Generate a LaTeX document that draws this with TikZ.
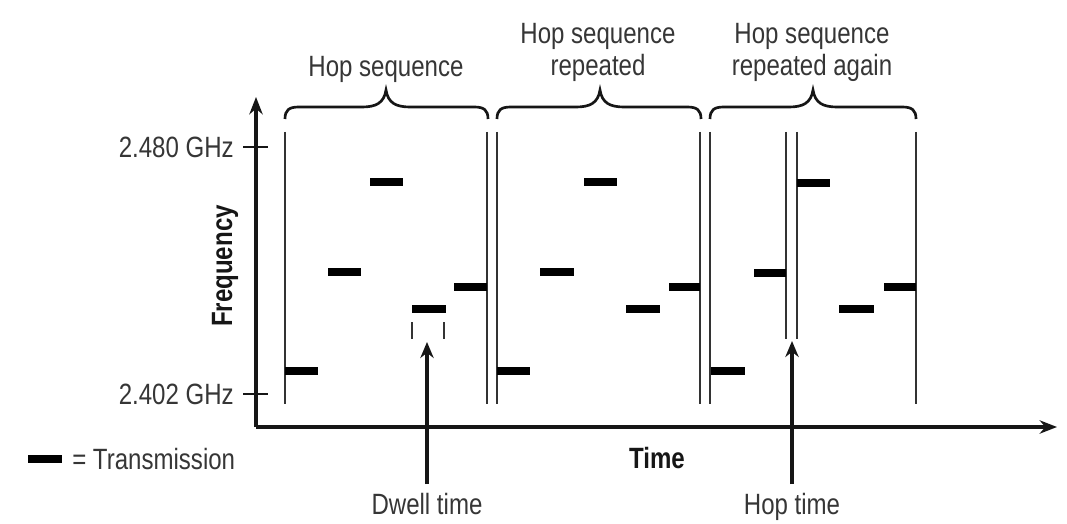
\documentclass[tikz,border=0pt]{standalone}
\usepackage{fontspec}
\setmainfont{Liberation Sans}[FakeStretch=0.82]
\usetikzlibrary{arrows.meta}
\definecolor{txt}{HTML}{363636}
\definecolor{ink}{HTML}{161616}
\newcommand\hopbrace[3]{%
  \draw[bracestyle] (#1,119) .. controls (#1,110) and (#1+4,107) .. (#1+14,107)
    -- (#2-24,107) .. controls (#2-10,107) and (#2-2,103) .. (#2,90)
    .. controls (#2+2,103) and (#2+10,107) .. (#2+24,107)
    -- (#3-14,107) .. controls (#3-4,107) and (#3,110) .. (#3,119);}
\begin{document}
\begin{tikzpicture}[x=0.75pt,y=-0.75pt,
  lbl/.style={font=\fontsize{22}{23}\selectfont, text=txt, inner sep=0pt},
  bold/.style={font=\fontsize{22}{23}\selectfont\bfseries, text=ink, inner sep=0pt},
  axis/.style={draw=ink, line width=2.4pt, -{Stealth[length=13pt,width=10pt]}},
  tick/.style={draw=ink, line width=2.2pt},
  vline/.style={draw=black!80, line width=1.4pt},
  bracestyle/.style={draw=ink, line width=2pt},
  ptr/.style={draw=ink, line width=2.4pt, -{Stealth[length=12pt,width=10pt]}},
  bar/.style={fill=black},
  arrowlbl/.style={lbl, anchor=north, text height=15.5pt, text depth=4pt, inner ysep=7pt}]
\useasboundingbox (0,0) rectangle (1067,524);
\fill[white] (0,0) rectangle (1067,524);

% axes
\coordinate (origin) at (256,427);
\coordinate (ytip) at (256,97);
\coordinate (xtip) at (1057,427);
\draw[axis] (origin) -- (ytip);
\draw[axis] (origin) -- (xtip);
\draw[tick] (243,147) -- (268,147);
\draw[tick] (243,394) -- (268,394);
\node[lbl, anchor=east] (f480) at (234,147) {2.480 GHz};
\node[lbl, anchor=east] (f402) at (234,394) {2.402 GHz};
\node[bold, rotate=90] (freq) at (225,266) {Frequency};
\node[bold] (time) at (657,458) {Time};

% vertical lines
\foreach \x in {285,487,497,700,710,916} {\draw[vline] (\x,132) -- (\x,404);}
\draw[vline] (786,132) -- (786,339);
\draw[vline] (797,132) -- (797,339);

% braces
\hopbrace{285}{386}{488}
\hopbrace{497}{600}{701}
\hopbrace{710}{813}{916}
\node[lbl, anchor=base] (seq1) at (386,77) {Hop sequence};
\node[lbl, anchor=base, align=center] (seq2) at (598,76) {Hop sequence\\[1pt]repeated};
\node[lbl, anchor=base, align=center] (seq3) at (812,76) {Hop sequence\\[1pt]repeated again};

% transmissions
\foreach \a/\b/\y in {285/318/371, 328/361/272, 370/403/182, 412/446/309, 454/487/287,
                      497/530/371, 540/574/272, 584/617/182, 626/660/309, 669/700/287,
                      711/745/371, 754/786/273, 797/830/183, 839/874/309, 884/916/287}
  {\fill[bar] (\a,\y-4) rectangle (\b,\y+4);}

% dwell marks
\draw[vline] (412,322) -- (412,339);
\draw[vline] (444,322) -- (444,339);

% pointers
\coordinate (dwelltip) at (427,342);
\coordinate (hoptip) at (792,341);
\node[arrowlbl] (dwell) at (427,484) {Dwell time};
\node[arrowlbl] (hop) at (792,484) {Hop time};
\draw[ptr] (dwell.north) -- (dwelltip);
\draw[ptr] (hop.north) -- (hoptip);

% legend
\fill[bar] (28,455) rectangle (62,463);
\node[lbl, anchor=west] (legend) at (72,459) {= Transmission};
\end{tikzpicture}
\end{document}
